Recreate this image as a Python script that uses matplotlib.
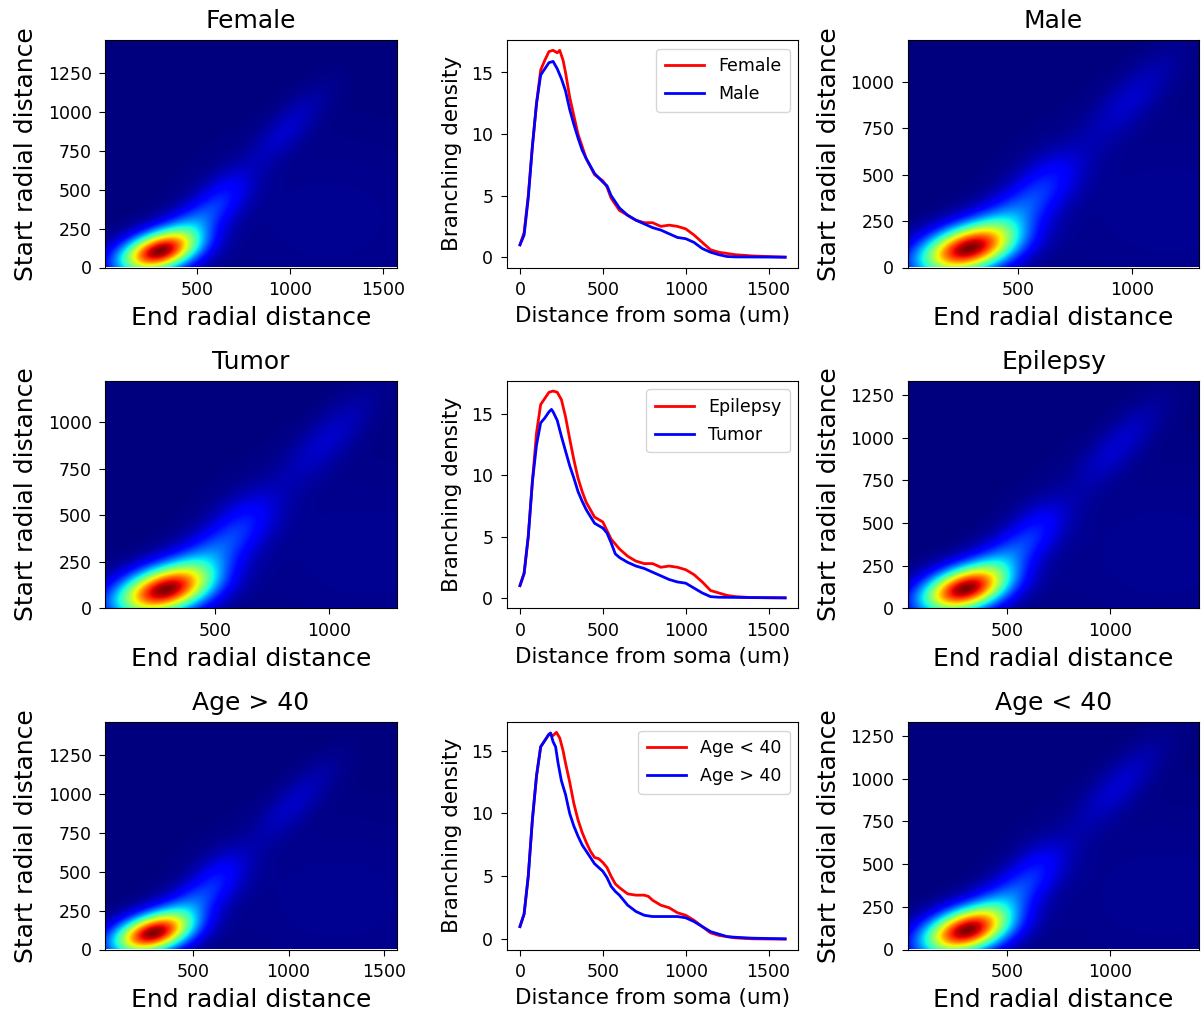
import numpy as np
import matplotlib
matplotlib.use("Agg")
import matplotlib.pyplot as plt

# ---------------------------------------------------------------------------
# Branching density profiles (distance from soma in um -> density)
# ---------------------------------------------------------------------------
dist_female = [0, 25, 50, 75, 100, 125, 150, 175, 200, 225, 240, 260, 275, 300, 325, 350, 375, 400,
               450, 500, 525, 550, 600, 650, 700, 750, 800, 850, 900, 950, 1000, 1050, 1100, 1150,
               1200, 1300, 1400, 1500, 1600]
dens_female = [1.0, 2.0, 5.0, 9.0, 12.5, 15.2, 16.0, 16.7, 16.8, 16.6, 16.8, 16.0, 15.0, 13.0, 11.5,
               10.0, 9.0, 8.0, 6.7, 6.2, 5.7, 4.8, 3.8, 3.4, 3.0, 2.8, 2.8, 2.5, 2.6, 2.5, 2.3, 1.8,
               1.2, 0.6, 0.4, 0.2, 0.1, 0.05, 0.0]

dist_male = [0, 25, 50, 75, 100, 125, 150, 175, 200, 225, 250, 275, 300, 325, 350, 375, 400, 450,
             500, 525, 550, 600, 650, 700, 750, 800, 850, 900, 950, 1000, 1050, 1100, 1150, 1200,
             1250, 1300, 1600]
dens_male = [1.0, 1.8, 4.8, 9.0, 12.5, 14.8, 15.3, 15.8, 15.9, 15.3, 14.5, 13.5, 12.0, 10.8, 9.7,
             8.7, 8.0, 6.8, 6.1, 5.8, 5.0, 4.0, 3.4, 3.0, 2.7, 2.4, 2.2, 1.9, 1.6, 1.5, 1.2, 0.7,
             0.4, 0.2, 0.05, 0.02, 0.0]

dist_epilepsy = [0, 25, 50, 75, 100, 125, 150, 175, 200, 225, 250, 275, 300, 325, 350, 375, 400, 425,
                 450, 500, 525, 550, 600, 650, 700, 750, 800, 850, 900, 950, 1000, 1050, 1100, 1150,
                 1200, 1250, 1300, 1400, 1600]
dens_epilepsy = [1.0, 2.0, 5.0, 9.5, 13.5, 15.8, 16.3, 16.8, 16.9, 16.8, 16.2, 14.8, 13.0, 11.3, 9.8,
                 8.7, 7.8, 7.2, 6.6, 6.2, 5.5, 4.8, 4.0, 3.4, 3.0, 2.8, 2.8, 2.5, 2.6, 2.5, 2.3, 1.9,
                 1.3, 0.6, 0.4, 0.2, 0.1, 0.02, 0.0]

dist_tumor = [0, 25, 50, 75, 100, 125, 150, 175, 190, 200, 225, 250, 275, 300, 325, 350, 375, 400,
              450, 500, 525, 550, 575, 600, 650, 700, 750, 800, 850, 900, 950, 1000, 1050, 1100,
              1150, 1200, 1600]
dens_tumor = [1.0, 2.0, 5.0, 9.5, 12.5, 14.3, 14.7, 15.2, 15.4, 15.2, 14.5, 13.2, 12.0, 10.8, 9.8,
              8.7, 7.9, 7.2, 6.1, 5.7, 5.3, 4.5, 3.6, 3.3, 2.9, 2.6, 2.4, 2.1, 1.8, 1.5, 1.3, 1.2,
              0.8, 0.4, 0.1, 0.05, 0.0]

dist_young = [0, 25, 50, 75, 100, 125, 150, 175, 200, 220, 240, 260, 275, 300, 325, 350, 375, 400,
              425, 450, 475, 500, 525, 550, 575, 600, 650, 700, 750, 775, 800, 850, 900, 950, 1000,
              1050, 1100, 1150, 1200, 1300, 1400, 1600]
dens_young = [1.0, 2.0, 5.0, 9.5, 13.0, 15.3, 15.8, 16.3, 16.2, 16.45, 16.0, 15.0, 14.0, 12.5, 10.8,
              9.5, 8.5, 7.7, 7.0, 6.5, 6.4, 6.1, 5.7, 5.0, 4.4, 4.1, 3.6, 3.5, 3.5, 3.4, 3.1, 2.7,
              2.5, 2.1, 1.9, 1.5, 1.0, 0.5, 0.3, 0.1, 0.03, 0.0]

dist_old = [0, 25, 50, 75, 100, 125, 150, 175, 185, 200, 215, 230, 250, 275, 300, 325, 350, 375,
            400, 450, 500, 525, 550, 575, 600, 650, 700, 750, 800, 850, 900, 950, 1000, 1050, 1100,
            1150, 1200, 1250, 1300, 1400, 1500, 1600]
dens_old = [1.0, 2.0, 5.0, 9.5, 13.0, 15.3, 15.8, 16.3, 16.4, 15.7, 15.3, 14.0, 12.6, 11.5, 10.0,
            9.0, 8.2, 7.5, 7.0, 6.0, 5.4, 4.9, 4.2, 3.8, 3.5, 2.7, 2.2, 1.9, 1.8, 1.8, 1.8, 1.8,
            1.7, 1.4, 1.0, 0.6, 0.4, 0.2, 0.15, 0.08, 0.05, 0.03]

# ---------------------------------------------------------------------------
# Start/end radial distance densities, described as Gaussian components:
# (end centre, start centre, major sd, minor sd, major-axis angle in deg, peak weight)
# ---------------------------------------------------------------------------
blobs_female = [(289, 94, 150, 82, 20, 1.00), (470, 270, 170, 80, 38, 0.20),
                (650, 480, 130, 80, 48, 0.09), (980, 880, 210, 70, 52, 0.065),
                (1200, 300, 500, 400, 0, 0.02)]
blobs_male = [(274, 93, 150, 82, 20, 1.00), (460, 270, 170, 80, 38, 0.20),
              (630, 480, 130, 80, 48, 0.10), (990, 900, 210, 70, 52, 0.065),
              (1150, 300, 450, 380, 0, 0.02)]
blobs_tumor = [(273, 91, 150, 82, 20, 1.00), (460, 270, 170, 80, 38, 0.20),
               (630, 480, 130, 80, 48, 0.10), (990, 900, 210, 70, 52, 0.065),
               (1150, 300, 450, 380, 0, 0.02)]
blobs_epilepsy = [(285, 105, 150, 84, 20, 1.00), (470, 280, 170, 80, 38, 0.20),
                  (650, 490, 130, 80, 48, 0.09), (1040, 950, 210, 70, 52, 0.07),
                  (1250, 320, 480, 400, 0, 0.02)]
blobs_old = [(282, 96, 145, 80, 20, 1.00), (470, 270, 170, 80, 38, 0.19),
             (640, 490, 130, 80, 48, 0.09), (1030, 940, 220, 70, 52, 0.06),
             (1250, 320, 500, 400, 0, 0.02)]
blobs_young = [(293, 102, 150, 84, 20, 1.00), (475, 280, 170, 80, 38, 0.20),
               (650, 490, 130, 80, 48, 0.09), (1040, 950, 210, 70, 52, 0.07),
               (1250, 320, 480, 400, 0, 0.02)]

# Image extents (end min, end max, start min, start max)
extent_female = (3, 1572, 0, 1460)
extent_male = (15, 1294, 0, 1225)
extent_tumor = (16, 1299, 0, 1224)
extent_epilepsy = (13, 1438, 0, 1334)
extent_old = (37, 1567, 0, 1462)
extent_young = (13, 1438, 0, 1332)


def density(blobs, extent, n=300):
    x0, x1, y0, y1 = extent
    X, Y = np.meshgrid(np.linspace(x0, x1, n), np.linspace(y0, y1, n))
    Z = np.zeros_like(X)
    for mx, my, s_major, s_minor, ang, w in blobs:
        t = np.deg2rad(ang)
        u = (X - mx) * np.cos(t) + (Y - my) * np.sin(t)
        v = -(X - mx) * np.sin(t) + (Y - my) * np.cos(t)
        Z += w * np.exp(-0.5 * ((u / s_major) ** 2 + (v / s_minor) ** 2))
    return Z / Z.max()


W, H = 1201, 1014
fig = plt.figure(figsize=(W / 100, H / 100), dpi=100)

col_left = [105, 506.7, 907.7]
row_top = [40, 380.7, 722]
ax_w, ax_h = 291.7, 227.5


def make_ax(r, c):
    left = col_left[c] / W
    bottom = (H - row_top[r] - ax_h) / H
    return fig.add_axes([left, bottom, ax_w / W, ax_h / H])


TICK = 12.5
LABEL = 18


def style_ticks(ax):
    ax.tick_params(labelsize=TICK, length=4.4, pad=5.2)


heatmaps = [
    (0, 0, "Female", blobs_female, extent_female),
    (0, 2, "Male", blobs_male, extent_male),
    (1, 0, "Tumor", blobs_tumor, extent_tumor),
    (1, 2, "Epilepsy", blobs_epilepsy, extent_epilepsy),
    (2, 0, "Age > 40", blobs_old, extent_old),
    (2, 2, "Age < 40", blobs_young, extent_young),
]
for r, c, title, blobs, extent in heatmaps:
    ax = make_ax(r, c)
    Z = density(blobs, extent)
    ax.imshow(Z, origin="lower", extent=extent, aspect="auto", cmap="jet",
              interpolation="bilinear")
    ax.set_title(title, fontsize=LABEL, pad=8.5)
    ax.set_xlabel("End radial distance", fontsize=LABEL, labelpad=5.5)
    ax.set_ylabel("Start radial distance", fontsize=LABEL, labelpad=7)
    style_ticks(ax)

profiles = [
    (0, ("Female", dist_female, dens_female), ("Male", dist_male, dens_male)),
    (1, ("Epilepsy", dist_epilepsy, dens_epilepsy), ("Tumor", dist_tumor, dens_tumor)),
    (2, ("Age < 40", dist_young, dens_young), ("Age > 40", dist_old, dens_old)),
]
for r, red, blue in profiles:
    ax = make_ax(r, 1)
    ax.plot(red[1], red[2], color="red", lw=2, label=red[0])
    ax.plot(blue[1], blue[2], color="blue", lw=2, label=blue[0])
    ax.set_xlabel("Distance from soma (um)", fontsize=15.5, labelpad=5.5)
    ax.set_ylabel("Branching density", fontsize=15.5, labelpad=7)
    style_ticks(ax)
    ax.set_xticks([0, 500, 1000, 1500])
    ax.legend(loc="upper right", fontsize=TICK, handlelength=2.25,
              borderpad=0.5, labelspacing=0.55)

fig.savefig("out.png", dpi=100)
